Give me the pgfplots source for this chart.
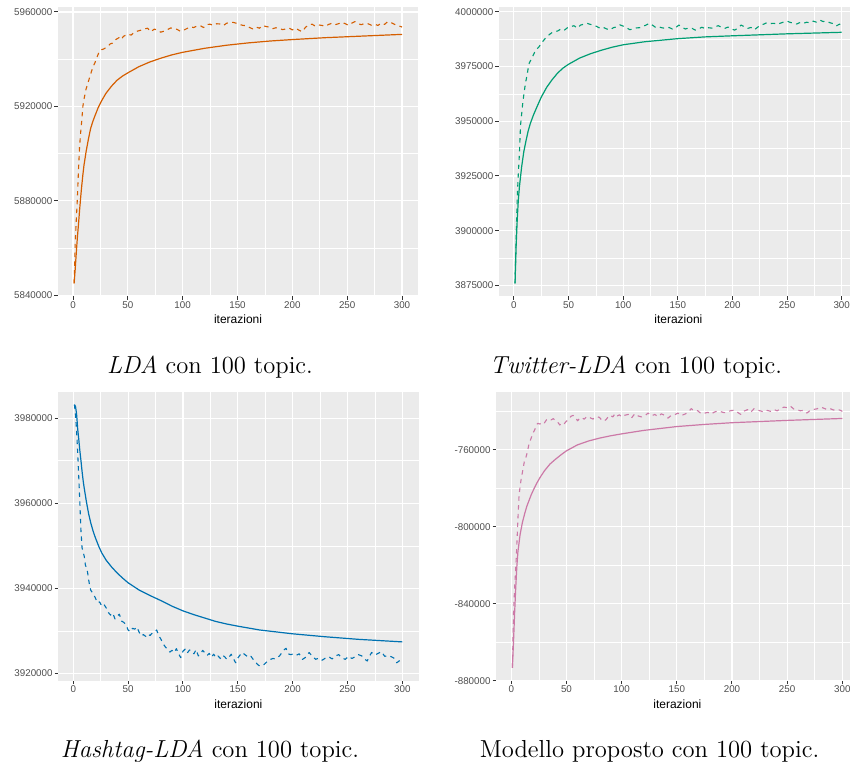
\documentclass[border=0pt]{standalone}
\usepackage{fontspec}
\usepackage{pgfplots}
\pgfplotsset{compat=1.18}
\newfontfamily\ggfont{Liberation Sans}
\newcommand\tickfont{\ggfont\fontsize{4.9}{5.9}\selectfont}
\newcommand\labfont{\ggfont\fontsize{6}{7}\selectfont}
\definecolor{ggbg}{HTML}{EBEBEB}
\definecolor{ggtick}{HTML}{333333}
\definecolor{ggtext}{HTML}{4D4D4D}
\definecolor{cLDA}{HTML}{D55E00}
\definecolor{cTW}{HTML}{009E73}
\definecolor{cHT}{HTML}{0072B2}
\definecolor{cMP}{HTML}{CC79A7}
\pgfplotsset{
  gg/.style={
    scale only axis, anchor=south west,
    xmin=-13.95, xmax=314.95,
    scaled y ticks=false, scaled x ticks=false,
    axis background/.style={fill=ggbg},
    axis line style={draw=none},
    tick align=outside, tick pos=left,
    major tick length=1.7pt, minor tick length=0pt,
    tick style={ggtick, line width=0.5pt},
    grid=both,
    major grid style={white, line width=0.55pt},
    minor grid style={white, line width=0.28pt},
    xtick={0,50,100,150,200,250,300},
    xticklabels={0,50,100,150,200,250,300},
    minor xtick={25,75,125,175,225,275},
    ticklabel style={font=\tickfont, text=ggtext, inner sep=0pt},
    xticklabel style={anchor=north, yshift=-0.65pt},
    yticklabel style={anchor=east, xshift=-0.8pt},
    xlabel={iterazioni},
    xlabel style={font=\labfont, at={(axis description cs:0.5,0)}, anchor=base, yshift=-13.5pt, inner sep=0pt},
    every axis plot/.append style={no markers, line join=round},
  },
  sol/.style={line width=0.6pt},
  das/.style={line width=0.55pt, dash pattern=on 2.2pt off 2.2pt},
}
\begin{document}
\begin{tikzpicture}
\useasboundingbox (0pt,0pt) rectangle (425pt,-382pt);
% ---------------- LDA
\begin{axis}[gg, at={(28.85pt,-148.25pt)}, width=180.35pt, height=144.75pt,
  ymin=5839450, ymax=5962100,
  ytick={5840000,5880000,5920000,5960000},
  yticklabels={5840000,5880000,5920000,5960000},
  minor ytick={5860000,5900000,5940000}]
\addplot[cLDA, sol] coordinates {(1,5845000)(2,5851000)(3,5858000)(4,5864500)(5,5870000)(6,5876000)(7,5881500)(8,5886500)(9,5891000)(10,5895000)(12,5901000)(14,5906000)(16,5910500)(18,5913500)(20,5916000)(23,5919500)(26,5922300)(30,5925500)(35,5928500)(40,5931000)(45,5932800)(50,5934200)(60,5936800)(70,5938800)(80,5940400)(90,5941800)(100,5942900)(120,5944600)(140,5945900)(160,5946900)(180,5947700)(200,5948300)(230,5949100)(260,5949700)(300,5950500)};
\addplot[cLDA, das] coordinates {(1,5845000)(2,5862000)(3,5872000)(4,5881000)(5,5893000)(6,5903000)(7,5909000)(8,5914000)(9,5920000)(10,5923000)(12,5927500)(14,5930500)(16,5933500)(18,5936500)(20,5938500)(22,5941000)(24,5943300)(26,5944000)(28,5944300)(30,5944900)(32,5945500)(34,5946500)(36,5946800)(38,5948000)(40,5948600)(42,5949100)(44,5948300)(46,5949700)(48,5950100)(50,5950600)(53,5950200)(56,5951500)(59,5951900)(62,5952300)(65,5952800)(68,5953100)(71,5951600)(74,5952700)(77,5952400)(80,5951400)(83,5951900)(86,5952500)(89,5953200)(92,5953100)(95,5952600)(98,5951800)(101,5952300)(104,5953000)(107,5953700)(110,5953400)(113,5954000)(116,5954200)(119,5953400)(122,5954700)(125,5954800)(128,5954300)(131,5955000)(134,5954900)(137,5954200)(140,5955200)(143,5955500)(146,5955600)(149,5955200)(152,5954700)(155,5954300)(158,5954200)(161,5953400)(164,5952800)(167,5953600)(170,5953100)(173,5954300)(176,5953800)(179,5953600)(182,5952900)(185,5953300)(188,5953100)(191,5952500)(194,5952800)(197,5953200)(200,5952400)(203,5953100)(206,5952300)(209,5951600)(212,5953500)(215,5954600)(218,5954800)(221,5954000)(224,5954500)(227,5954300)(230,5953900)(233,5954700)(236,5955200)(239,5954600)(242,5955000)(245,5955600)(248,5955100)(251,5954400)(254,5955200)(257,5955900)(260,5955000)(263,5954600)(266,5955200)(269,5955000)(272,5954400)(275,5954800)(278,5954300)(281,5955200)(284,5954700)(287,5955900)(290,5955500)(293,5954800)(296,5954200)(299,5953800)(300,5953600)};
\end{axis}
% ---------------- Twitter-LDA
\begin{axis}[gg, at={(249.35pt,-148.25pt)}, width=179.65pt, height=144.75pt,
  ymin=3869970, ymax=4002150,
  ytick={3875000,3900000,3925000,3950000,3975000,4000000},
  yticklabels={3875000,3900000,3925000,3950000,3975000,4000000},
  minor ytick={3887500,3912500,3937500,3962500,3987500}]
\addplot[cTW, sol] coordinates {(1,3876000)(2,3893000)(3,3905000)(4,3914000)(5,3920000)(7,3929000)(9,3936000)(11,3941000)(13,3945500)(15,3949000)(18,3953000)(21,3956500)(25,3961000)(30,3965500)(35,3969000)(40,3972000)(45,3974300)(50,3976000)(60,3978800)(70,3980800)(80,3982400)(90,3983800)(100,3984900)(120,3986300)(150,3987700)(175,3988500)(200,3989000)(250,3989900)(300,3990600)};
\addplot[cTW, das] coordinates {(1,3876000)(2,3898000)(3,3915000)(4,3926000)(5,3935000)(6,3948000)(7,3953000)(8,3958000)(9,3962000)(10,3965500)(11,3968500)(12,3971000)(13,3974000)(14,3976500)(15,3977500)(17,3979500)(19,3981500)(21,3983000)(23,3984000)(25,3985500)(27,3986800)(29,3988000)(31,3989000)(33,3989800)(35,3990500)(37,3990800)(40,3991200)(43,3992100)(46,3991500)(49,3992700)(52,3993200)(55,3993600)(58,3992500)(61,3993900)(64,3994300)(67,3994700)(70,3994200)(73,3993900)(76,3993200)(79,3992400)(82,3992800)(85,3992100)(88,3991700)(91,3992700)(94,3993100)(97,3994000)(100,3993400)(103,3992700)(106,3991800)(109,3992100)(112,3992600)(115,3992700)(118,3993300)(121,3993900)(124,3994700)(127,3993800)(130,3992700)(133,3993000)(136,3992600)(139,3992400)(142,3992800)(145,3992100)(148,3992700)(151,3993900)(154,3992800)(157,3992100)(160,3992600)(163,3992400)(166,3991600)(169,3992100)(172,3992900)(175,3992300)(178,3992700)(181,3992500)(184,3993100)(187,3993600)(190,3992900)(193,3992400)(196,3993000)(199,3992100)(202,3991600)(205,3992500)(208,3993900)(211,3993100)(214,3992400)(217,3992800)(220,3991700)(223,3992900)(226,3993900)(229,3994400)(232,3995100)(235,3994600)(238,3994700)(241,3994200)(244,3994800)(247,3995300)(250,3995700)(253,3995100)(256,3994700)(259,3994400)(262,3995100)(265,3994700)(268,3995200)(271,3994900)(274,3995700)(277,3995200)(280,3996200)(283,3995500)(286,3995700)(289,3995000)(292,3994600)(295,3993500)(298,3994300)(300,3994000)};
\end{axis}
% ---------------- Hashtag-LDA
\begin{axis}[gg, at={(29pt,-340.5pt)}, width=180.35pt, height=144.65pt,
  ymin=3918200, ymax=3986250,
  ytick={3920000,3940000,3960000,3980000},
  yticklabels={3920000,3940000,3960000,3980000},
  minor ytick={3930000,3950000,3970000}]
\addplot[cHT, sol] coordinates {(1,3983200)(2,3982800)(3,3981000)(4,3977500)(5,3975000)(6,3972300)(7,3970000)(8,3967500)(9,3965300)(10,3963500)(12,3960300)(14,3957500)(16,3955300)(18,3953500)(20,3952000)(23,3950000)(26,3948300)(30,3946600)(35,3945000)(40,3943600)(45,3942400)(50,3941300)(60,3939600)(70,3938300)(80,3937100)(90,3935800)(100,3934700)(110,3933800)(120,3933000)(130,3932200)(140,3931600)(150,3931100)(170,3930200)(200,3929300)(230,3928600)(260,3928000)(300,3927400)};
\addplot[cHT, das] coordinates {(1,3983200)(2,3981000)(3,3977000)(4,3972000)(5,3966000)(6,3960000)(7,3953500)(8,3949500)(9,3948500)(10,3947500)(11,3945500)(12,3944800)(13,3943800)(14,3942000)(15,3940500)(16,3939500)(18,3938800)(20,3937800)(22,3936600)(24,3936800)(26,3935800)(28,3936200)(30,3935400)(32,3934300)(34,3933700)(36,3934200)(38,3932800)(40,3933500)(42,3933900)(44,3932300)(46,3932000)(48,3931400)(50,3930200)(52,3929800)(54,3930600)(56,3930400)(58,3930900)(60,3929700)(62,3928800)(64,3929100)(66,3928700)(68,3929300)(70,3928900)(72,3929500)(74,3929800)(76,3930200)(78,3928800)(80,3928000)(82,3926900)(84,3926200)(86,3925600)(88,3925000)(90,3925400)(92,3924900)(94,3925800)(96,3924600)(98,3923700)(100,3925200)(102,3925700)(104,3924800)(106,3925500)(108,3925300)(110,3924600)(112,3925600)(114,3924100)(116,3924600)(118,3925400)(120,3924800)(122,3924200)(124,3924700)(126,3923800)(128,3924500)(130,3923700)(132,3924100)(134,3923500)(136,3924300)(138,3923900)(140,3923300)(142,3923800)(144,3924500)(146,3923500)(148,3922500)(150,3923600)(152,3924300)(154,3924900)(156,3924500)(158,3924100)(160,3923700)(162,3924000)(164,3923300)(166,3922700)(168,3922100)(170,3921700)(172,3921900)(174,3922100)(176,3922600)(178,3922900)(180,3923300)(182,3923500)(184,3923400)(186,3923700)(188,3924100)(190,3924800)(192,3925500)(194,3925900)(196,3924600)(198,3924400)(200,3924500)(203,3924200)(206,3924600)(209,3923300)(212,3923800)(215,3924900)(218,3924000)(221,3923300)(224,3923600)(227,3923100)(230,3923600)(233,3923900)(236,3923400)(239,3924100)(242,3924400)(245,3923600)(248,3923300)(251,3924000)(254,3923500)(257,3923900)(260,3924400)(263,3924100)(266,3923300)(268,3922900)(270,3924000)(272,3924900)(275,3924300)(278,3924700)(281,3925100)(284,3924000)(287,3924200)(290,3923900)(293,3923500)(295,3922500)(297,3922900)(300,3923300)};
\end{axis}
% ---------------- Modello proposto
\begin{axis}[gg, at={(247.95pt,-340.5pt)}, width=181.45pt, height=144.65pt,
  ymin=-880150, ymax=-729900,
  ytick={-880000,-840000,-800000,-760000},
  yticklabels={-880000,-840000,-800000,-760000},
  minor ytick={-860000,-820000,-780000,-740000}]
\addplot[cMP, sol] coordinates {(1,-873300)(2,-860000)(3,-845000)(4,-832000)(5,-821000)(6,-813000)(8,-804000)(10,-798000)(12,-793500)(14,-789500)(16,-786500)(18,-783500)(20,-781000)(23,-777500)(26,-774500)(30,-771000)(35,-767500)(40,-765000)(45,-762700)(50,-760600)(60,-757500)(70,-755500)(80,-754000)(90,-752800)(100,-751800)(120,-750000)(150,-748000)(175,-746900)(200,-746000)(250,-744800)(300,-743800)};
\addplot[cMP, das] coordinates {(1,-873300)(2,-845000)(3,-832000)(4,-822000)(5,-810000)(6,-796000)(7,-784000)(8,-779000)(9,-775000)(10,-772000)(11,-769000)(12,-765500)(13,-764500)(14,-762500)(15,-760000)(16,-757000)(17,-755500)(18,-754000)(19,-752500)(20,-751000)(21,-750000)(22,-748500)(23,-747000)(24,-746300)(26,-746700)(28,-745600)(30,-746100)(32,-744400)(34,-744000)(36,-744600)(38,-743900)(40,-744800)(42,-745700)(44,-747200)(46,-746000)(48,-746500)(50,-745200)(52,-744400)(54,-742700)(56,-742200)(58,-743000)(60,-745000)(62,-743800)(64,-743300)(66,-744200)(68,-743100)(70,-742800)(72,-743600)(74,-744100)(76,-743400)(78,-742900)(80,-743300)(82,-744700)(84,-745200)(86,-744300)(88,-742800)(90,-742200)(92,-743000)(94,-741300)(96,-742500)(98,-741900)(100,-743000)(103,-742100)(106,-741700)(109,-743500)(112,-741300)(115,-742500)(118,-743000)(121,-742400)(124,-741000)(127,-742500)(130,-741700)(133,-742800)(136,-741400)(139,-742200)(142,-743600)(145,-742200)(148,-741900)(151,-741000)(154,-742300)(157,-741600)(160,-740800)(163,-738700)(166,-739900)(169,-739800)(172,-741300)(175,-741100)(178,-740600)(181,-741500)(184,-740500)(187,-739900)(190,-740300)(193,-740800)(196,-740500)(199,-739700)(202,-739500)(205,-740600)(208,-741700)(211,-740000)(214,-739200)(217,-740600)(220,-738700)(223,-739400)(226,-739900)(229,-740500)(232,-739600)(235,-740100)(238,-739200)(241,-739800)(244,-738700)(247,-737900)(250,-738200)(253,-737400)(256,-738900)(259,-739300)(262,-739800)(265,-739600)(268,-741000)(271,-739500)(274,-739100)(277,-738800)(280,-737900)(283,-738400)(286,-739200)(289,-738700)(292,-739400)(295,-739000)(298,-739500)(300,-740100)};
\end{axis}
% ---------------- captions
\node[anchor=base, inner sep=0pt, font=\fontsize{12.3}{14}\selectfont] at (105pt,-186.5pt) {\textit{LDA} con 100 topic.};
\node[anchor=base, inner sep=0pt, font=\fontsize{12.3}{14}\selectfont] at (318pt,-186.5pt) {\textit{Twitter-LDA} con 100 topic.};
\node[anchor=base, inner sep=0pt, font=\fontsize{12.3}{14}\selectfont] at (105pt,-378.5pt) {\textit{Hashtag-LDA} con 100 topic.};
\node[anchor=base, inner sep=0pt, font=\fontsize{12.3}{14}\selectfont] at (324.75pt,-378.5pt) {Modello proposto con 100 topic.};
\end{tikzpicture}
\end{document}
